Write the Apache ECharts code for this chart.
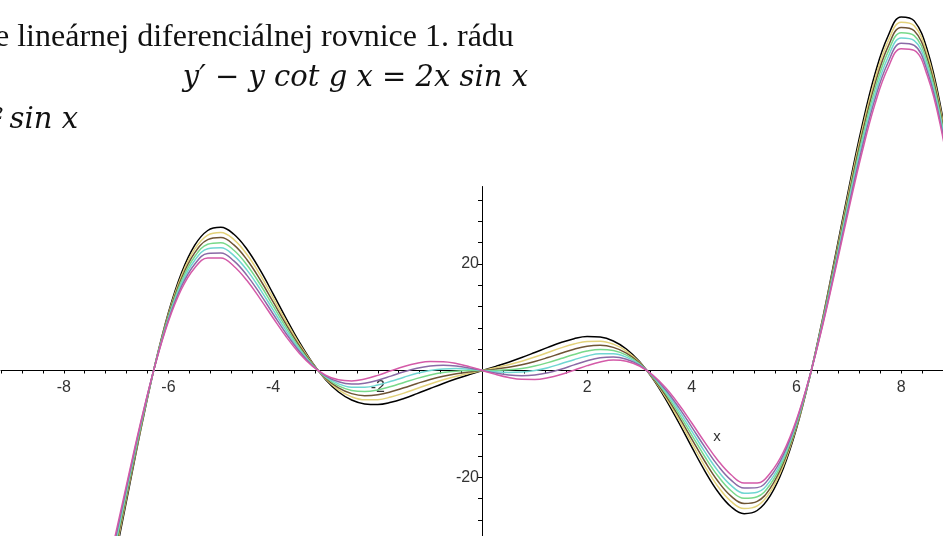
<!DOCTYPE html>
<html>
<head>
<meta charset="utf-8">
<script src="https://cdn.jsdelivr.net/npm/echarts@6/dist/echarts.min.js"></script>
<style>
  html, body { margin: 0; padding: 0; background: #ffffff; }
  #chart { width: 943px; height: 536px; }
</style>
</head>
<body>
<div id="chart"></div>
<script>
// Sample points along x shared by every curve of the family y = (x^2 + C) sin x
const xValues = [
  -7.25, -7, -6.75, -6.5, -6.25, -6, -5.75, -5.5, -5.25, -5, -4.75, -4.5, -4.25, -4, -3.75,
  -3.5, -3.25, -3, -2.75, -2.5, -2.25, -2, -1.75, -1.5, -1.25, -1, -0.75, -0.5, -0.25,
  0, 0.25, 0.5, 0.75, 1, 1.25, 1.5, 1.75, 2, 2.25, 2.5, 2.75, 3, 3.25, 3.5, 3.75, 4,
  4.25, 4.5, 4.75, 5, 5.25, 5.5, 5.75, 6, 6.25, 6.5, 6.75, 7, 7.25, 7.5, 7.75, 8, 8.25,
  8.5, 8.75, 9
];

// One list of y values per integration constant C
const yC3 = [
  -45.72, -34.16, -21.85, -9.73, 1.40, 10.90, 18.33, 23.46, 26.25, 26.85, 25.54, 22.73, 18.85, 14.38, 9.75,
  5.35, 1.47, -1.69, -4.03, -5.54, -6.27, -6.37, -5.97, -5.24, -4.33, -3.37, -2.43, -1.56, -0.76,
  0, 0.76, 1.56, 2.43, 3.37, 4.33, 5.24, 5.97, 6.37, 6.27, 5.54, 4.03, 1.69, -1.47, -5.35, -9.75, -14.38,
  -18.85, -22.73, -25.54, -26.85, -26.25, -23.46, -18.33, -10.90, -1.40, 9.73, 21.85, 34.16, 45.72, 55.58, 62.72, 66.29, 65.55,
  60.09, 49.70, 34.62
];
const yC2 = [
  -44.89, -33.51, -21.40, -9.52, 1.36, 10.62, 17.82, 22.75, 25.39, 25.89, 24.55, 21.75, 17.96, 13.62, 9.18,
  5.00, 1.36, -1.55, -3.65, -4.94, -5.50, -5.46, -4.98, -4.24, -3.38, -2.52, -1.75, -1.08, -0.51,
  0, 0.51, 1.08, 1.75, 2.52, 3.38, 4.24, 4.98, 5.46, 5.50, 4.94, 3.65, 1.55, -1.36, -5.00, -9.18, -13.62,
  -17.96, -21.75, -24.55, -25.89, -25.39, -22.75, -17.82, -10.62, -1.36, 9.52, 21.40, 33.51, 44.89, 54.64, 61.73, 65.30, 64.63,
  59.29, 49.08, 34.20
];
const yC1 = [
  -44.07, -32.85, -20.95, -9.30, 1.33, 10.34, 17.31, 22.05, 24.53, 24.93, 23.55, 20.77, 17.06, 12.87, 8.61,
  4.65, 1.25, -1.41, -3.27, -4.34, -4.72, -4.55, -4.00, -3.24, -2.43, -1.68, -1.07, -0.60, -0.26,
  0, 0.26, 0.60, 1.07, 1.68, 2.43, 3.24, 4.00, 4.55, 4.72, 4.34, 3.27, 1.41, -1.25, -4.65, -8.61, -12.87,
  -17.06, -20.77, -23.55, -24.93, -24.53, -22.05, -17.31, -10.34, -1.33, 9.30, 20.95, 32.85, 44.07, 53.70, 60.73, 64.31, 63.70,
  58.49, 48.45, 33.79
];
const yC0 = [
  -43.25, -32.19, -20.50, -9.09, 1.30, 10.06, 16.81, 21.34, 23.67, 23.97, 22.55, 19.79, 16.17, 12.11, 8.04,
  4.30, 1.14, -1.27, -2.89, -3.74, -3.94, -3.64, -3.01, -2.24, -1.48, -0.84, -0.38, -0.12, -0.02,
  0, 0.02, 0.12, 0.38, 0.84, 1.48, 2.24, 3.01, 3.64, 3.94, 3.74, 2.89, 1.27, -1.14, -4.30, -8.04, -12.11,
  -16.17, -19.79, -22.55, -23.97, -23.67, -21.34, -16.81, -10.06, -1.30, 9.09, 20.50, 32.19, 43.25, 52.76, 59.74, 63.32, 62.78,
  57.69, 47.83, 33.38
];
const yCm1 = [
  -42.43, -31.54, -20.05, -8.87, 1.26, 9.78, 16.30, 20.64, 22.81, 23.01, 21.55, 18.82, 15.27, 11.35, 7.47,
  3.95, 1.03, -1.13, -2.50, -3.14, -3.16, -2.73, -2.03, -1.25, -0.53, 0, 0.30, 0.36, 0.23,
  0, -0.23, -0.36, -0.30, 0, 0.53, 1.25, 2.03, 2.73, 3.16, 3.14, 2.50, 1.13, -1.03, -3.95, -7.47, -11.35,
  -15.27, -18.82, -21.55, -23.01, -22.81, -20.64, -16.30, -9.78, -1.26, 8.87, 20.05, 31.54, 42.43, 51.82, 58.74, 62.33, 61.86,
  56.89, 47.20, 32.97
];
const yCm2 = [
  -41.60, -30.88, -19.60, -8.66, 1.23, 9.50, 15.79, 19.93, 21.96, 22.05, 20.55, 17.84, 14.38, 10.60, 6.90,
  3.60, 0.93, -0.99, -2.12, -2.54, -2.38, -1.82, -1.05, -0.25, 0.42, 0.84, 0.98, 0.84, 0.48,
  0, -0.48, -0.84, -0.98, -0.84, -0.42, 0.25, 1.05, 1.82, 2.38, 2.54, 2.12, 0.99, -0.93, -3.60, -6.90, -10.60,
  -14.38, -17.84, -20.55, -22.05, -21.96, -19.93, -15.79, -9.50, -1.23, 8.66, 19.60, 30.88, 41.60, 50.89, 57.76, 61.34, 60.94,
  56.10, 46.58, 32.56
];
const yCm3 = [
  -40.78, -30.22, -19.15, -8.44, 1.20, 9.22, 15.28, 19.22, 21.10, 21.10, 19.55, 16.86, 13.48, 9.84, 6.32,
  3.25, 0.82, -0.85, -1.74, -1.95, -1.60, -0.91, -0.06, 0.75, 1.36, 1.68, 1.66, 1.32, 0.73,
  0, -0.73, -1.32, -1.66, -1.68, -1.36, -0.75, 0.06, 0.91, 1.60, 1.95, 1.74, 0.85, -0.82, -3.25, -6.32, -9.84,
  -13.48, -16.86, -19.55, -21.10, -21.10, -19.22, -15.28, -9.22, -1.20, 8.44, 19.15, 30.22, 40.78, 49.95, 56.76, 60.35, 60.01,
  55.30, 45.95, 32.14
];

const curveNames = ['C = 3', 'C = 2', 'C = 1', 'C = 0', 'C = -1', 'C = -2', 'C = -3'];
const curveValues = [yC3, yC2, yC1, yC0, yCm1, yCm2, yCm3];
const curveColors = ['#000000', '#e3d27a', '#6e5434', '#78d98a', '#6fd6d2', '#8a6aa6', '#d45aa8'];

// Axis ticks and labels
const xLabelValues = [-8, -6, -4, -2, 2, 4, 6, 8];
const yTickValues = [-32, -28, -24, -20, -16, -12, -8, -4, 0, 4, 8, 12, 16, 20, 24, 28, 32];
const yLabelValues = [-20, 20];

// Heading text above the plot
const headingLine1 = 'e lineárnej diferenciálnej rovnice 1. rádu';
const headingLine2 = 'y′ − y cot g x = 2x sin x';
const headingLine3 = '²\u2009sin x';
const xAxisName = 'x';

const chart = echarts.init(document.getElementById('chart'), null, { renderer: 'canvas' });

const tickFont = { fontFamily: 'Liberation Sans', fontSize: 16, color: '#333333' };
const X_MIN = -9.2, X_MAX = 8.8;

const series = curveValues.map((ys, k) => ({
  name: curveNames[k],
  type: 'line',
  xAxisIndex: 0,
  yAxisIndex: 0,
  data: xValues.map((x, i) => [x, ys[i]]),
  showSymbol: false,
  smooth: 0.4,
  lineStyle: { color: curveColors[k], width: 1.5 },
  z: 2 + k,
  silent: true
}));

chart.setOption({
  animation: false,
  backgroundColor: '#ffffff',
  grid: [
    // plotting area for the curves (whole canvas)
    { left: 1, right: 0, top: 0, bottom: 0, outerBoundsMode: 'none', containLabel: false },
    // vertical axis, standing on x = 0
    { left: 482, width: 10, top: 186.5, height: 354.7, outerBoundsMode: 'none', containLabel: false },
    // horizontal axis, lying on y = 0
    { left: 1, right: 0, top: 0, height: 370.5, outerBoundsMode: 'none', containLabel: false }
  ],
  xAxis: [
    { gridIndex: 0, type: 'value', min: X_MIN, max: X_MAX, show: false },
    { gridIndex: 1, type: 'value', min: 0, max: 1, show: false },
    {
      gridIndex: 2,
      type: 'value',
      position: 'bottom',
      min: X_MIN,
      max: X_MAX,
      interval: 0.4,
      axisLine: { show: true, onZero: false, lineStyle: { color: '#000000', width: 1 } },
      axisTick: { show: true, length: 3, lineStyle: { color: '#000000' } },
      axisLabel: Object.assign({ customValues: xLabelValues, margin: 9 }, tickFont),
      splitLine: { show: false }
    }
  ],
  yAxis: [
    { gridIndex: 0, type: 'value', min: -31.03, max: 69.47, show: false },
    {
      gridIndex: 1,
      type: 'value',
      position: 'left',
      min: -32,
      max: 34.5,
      axisLine: { show: true, onZero: false, lineStyle: { color: '#000000', width: 1 } },
      axisTick: { show: true, length: 4, customValues: yTickValues, lineStyle: { color: '#000000' } },
      axisLabel: Object.assign({ customValues: yLabelValues, margin: 3 }, tickFont),
      splitLine: { show: false }
    },
    { gridIndex: 2, type: 'value', min: 0, max: 1, show: false }
  ],
  graphic: [
    { type: 'text', x: -5, y: 54, z: 10, style: { text: headingLine1, font: '32px "Liberation Serif"', fill: '#111111', textVerticalAlign: 'bottom' } },
    { type: 'text', x: 528, y: 93, z: 10, style: { text: headingLine2, font: 'italic 29px "DejaVu Serif"', fill: '#111111', textAlign: 'right', textVerticalAlign: 'bottom' } },
    { type: 'text', x: 78, y: 135, z: 10, style: { text: headingLine3, font: 'italic 29px "DejaVu Serif"', fill: '#111111', textAlign: 'right', textVerticalAlign: 'bottom' } },
    { type: 'text', x: 717, y: 437, z: 10, style: { text: xAxisName, font: '15px "Liberation Sans"', fill: '#333333', textAlign: 'center', textVerticalAlign: 'middle' } }
  ],
  series: series
});
</script>
</body>
</html>
